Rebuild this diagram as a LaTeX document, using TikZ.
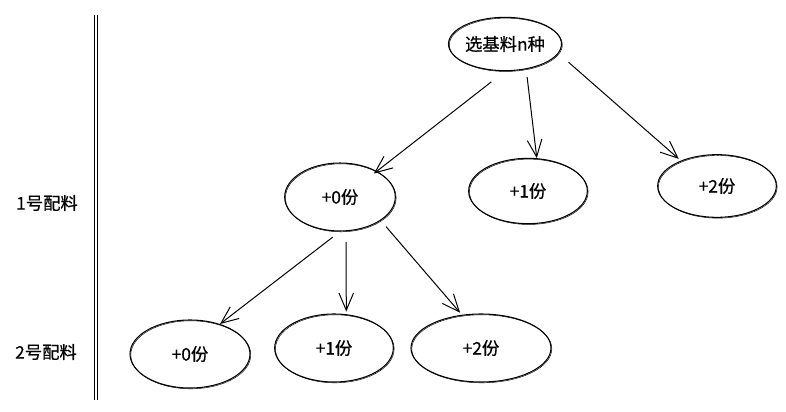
\documentclass[tikz,border=0pt]{standalone}
\usepackage{fontspec}
\usepackage{tikz}
\usetikzlibrary{shapes.geometric,arrows.meta}
\newfontfamily\cjk[FakeBold=0.6]{Noto Sans CJK SC}
\tikzset{
  pick/.style={ellipse, draw=black, line width=0.8pt, inner sep=0pt,
               font=\cjk\fontsize{13}{15}\selectfont,
               postaction={draw, line width=0.35pt,
                           transform canvas={shift={(0.6pt,-0.6pt)}}}},
  levlab/.style={font=\cjk\fontsize{13}{15}\selectfont},
  pickarrow/.style={-{Straight Barb[length=13pt,width=11pt]}, line width=0.75pt},
  divider/.style={double, double distance=1.3pt, line width=0.5pt}
}
\begin{document}
\begin{tikzpicture}[x=0.75pt,y=-0.75pt]
  \useasboundingbox (0,0) rectangle (786,411);
  \draw[divider] (96,15) -- (96,400);
  \node[levlab] (lvl1) at (47,203) {1号配料};
  \node[levlab] (lvl2) at (46,352) {2号配料};
  % tree of picks
  \node[pick, minimum width=84pt, minimum height=40pt] (base) at (505,44) {选基料n种};
  \node[pick, minimum width=83pt, minimum height=51pt] (a0) at (340,197) {+0份};
  \node[pick, minimum width=89pt, minimum height=49pt] (a1) at (528,191) {+1份};
  \node[pick, minimum width=89pt, minimum height=47pt] (a2) at (717,186) {+2份};
  \node[pick, minimum width=90pt, minimum height=51pt] (b0) at (190,354) {+0份};
  \node[pick, minimum width=89pt, minimum height=51pt] (b1) at (334,348) {+1份};
  \node[pick, minimum width=105pt, minimum height=51pt] (b2) at (481,348) {+2份};
  \draw[pickarrow, shorten <=13pt, shorten >=-3pt] (base.south) -- (a0.35);
  \draw[pickarrow, shorten <=6pt] (base.-50) -- (a1.75);
  \draw[pickarrow, shorten <=10pt, shorten >=2pt] (base.-10) -- (a2.145);
  \draw[pickarrow, shorten <=7pt] (a0.south) -- (b0.45);
  \draw[pickarrow, shorten <=8pt, shorten >=2pt] (a0.-80) -- (b1.70);
  \draw[pickarrow, shorten <=6pt, shorten >=2pt] (a0.-30) -- (b2.120);
\end{tikzpicture}
\end{document}
